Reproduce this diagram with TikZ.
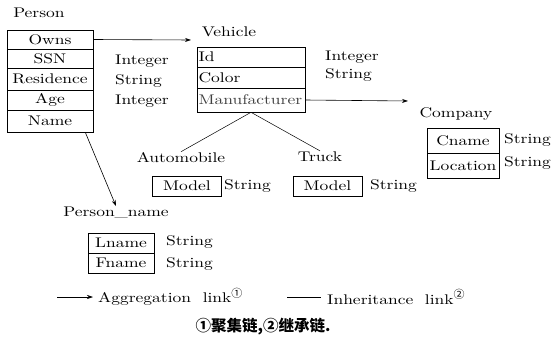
\documentclass[tikz,border=0pt]{standalone}
\usepackage{fontspec}
\setmainfont{lmroman10-regular.otf}[FakeStretch=1.25]
\newfontfamily\cjk{Noto Sans CJK SC}
\usetikzlibrary{arrows.meta}
\tikzset{
  every node/.style={font=\fontsize{14}{16}\selectfont, inner sep=1pt},
  cell/.style={draw, line width=0.6pt, minimum height=#1, inner sep=0pt},
  prow/.style={cell=#1, minimum width=86pt},
  vrow/.style={cell=#1, text width=105pt, align=left, inner xsep=1.5pt},
  crow/.style={cell=25pt, minimum width=72pt},
  mrow/.style={cell=20pt, minimum width=69pt},
  lrow/.style={cell=20pt, minimum width=66pt},
  lbl/.style={anchor=west},
  agg/.style={-{Stealth[length=6pt,width=4pt]}, line width=0.6pt},
  inh/.style={line width=0.5pt},
}
\begin{document}
\begin{tikzpicture}[x=1pt,y=-1pt]
\useasboundingbox (0,0) rectangle (557,345);
% Person
\node (ptitle) at (39,13) {Person};
\node[prow=19pt] (owns) at (50,39.5) {Owns};
\node[prow=19pt] (ssn) at (50,58.5) {SSN};
\node[prow=22pt] (res) at (50,79) {Residence};
\node[prow=20pt] (age) at (50,100) {Age};
\node[prow=22pt] (name) at (50,121) {Name};
\node[lbl] (t1) at (114,61) {Integer};
\node[lbl] (t2) at (114,81) {String};
\node[lbl] (t3) at (114,101) {Integer};
% Vehicle
\node (vtitle) at (229,32) {Vehicle};
\node[vrow=20pt] (vid) at (251,57) {Id};
\node[vrow=21pt] (vcol) at (251,77.5) {Color};
\node[vrow=24pt, text=black!75] (manu) at (251,100) {Manufacturer};
\node[lbl] (t4) at (324,57) {Integer};
\node[lbl] (t5) at (324,75) {String};
% Company
\node (ctitle) at (456,114) {Company};
\node[crow] (cname) at (463,140.5) {Cname};
\node[crow] (loc) at (463,165.5) {Location};
\node[lbl] (t6) at (503,140) {String};
\node[lbl] (t7) at (503,163) {String};
% Automobile / Truck
\node (auto) at (181,158) {Automobile};
\node[mrow] (amodel) at (187,186) {Model};
\node[lbl] (t8) at (223,186) {String};
\node (truck) at (320,157) {Truck};
\node[mrow] (tmodel) at (327.5,186) {Model};
\node[lbl] (t9) at (369,186) {String};
% Person_name
\node (pname) at (116,213) {Person\_name};
\node[lrow] (lname) at (121,243) {Lname};
\node[lrow] (fname) at (121,263) {Fname};
\node[lbl] (t10) at (165,242) {String};
\node[lbl] (t11) at (165,264) {String};
% connectors
\coordinate (owntip) at (191,40);
\coordinate (manutip) at (408,101);
\draw[agg] (owns.east) -- (owntip);
\draw[agg] (manu.east |- 0,100) -- (manutip);
\draw[agg] ([xshift=-8pt]name.south east) -- (pname.north);
\draw[inh] (manu.south) -- (auto.north);
\draw[inh] (manu.south) -- (truck.north);
% legend
\coordinate (la) at (57,297);
\coordinate (lb) at (93,297);
\draw[agg] (la) -- (lb);
\node[lbl] (aggtxt) at (97,297) {Aggregation\ \ link\textsuperscript{\cjk\fontsize{11}{11}\selectfont ①}};
\coordinate (lc) at (287,297);
\coordinate (ld) at (321,297);
\draw[inh] (lc) -- (ld);
\node[lbl] (inhtxt) at (326,297) {Inheritance\ \ link\textsuperscript{\cjk\fontsize{11}{11}\selectfont ②}};
\node (cap) at (263,327) {\cjk\bfseries\fontsize{15.5}{17}\selectfont ①聚集链,②继承链.};
\end{tikzpicture}
\end{document}
